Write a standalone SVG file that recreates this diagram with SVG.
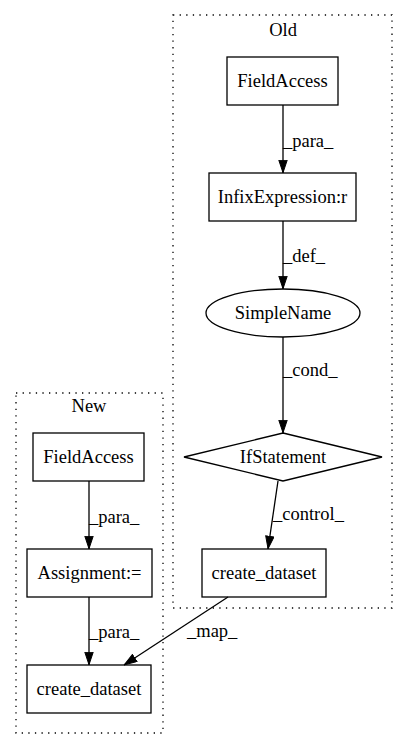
<svg xmlns="http://www.w3.org/2000/svg" width="408" height="740" viewBox="0 0 408 740">
<style>
text{font-family:'Liberation Serif','Times New Roman',serif;font-size:18.5px;fill:#000}
.n{fill:none;stroke:#000;stroke-width:1.3}
.c{fill:none;stroke:#000;stroke-width:1.3;stroke-dasharray:1.3,5.3}
.e{fill:none;stroke:#000;stroke-width:1.3}
.m{text-anchor:middle}
</style>
<defs>
<marker id="a" markerWidth="13.3" markerHeight="9.4" refX="13.3" refY="4.7" orient="auto" markerUnits="userSpaceOnUse" viewBox="0 0 13.3 9.4">
<path d="M0.5,0.5 L13,4.7 L0.5,8.9 z" fill="#000" stroke="#000" stroke-width="1"/>
</marker>
</defs>
<rect width="408" height="740" fill="#fff"/>
<g id="cluster_old">
<rect class="c" x="173" y="15" width="219" height="593"/>
<text class="m" x="283" y="36">Old</text>
</g>
<g id="cluster_new">
<rect class="c" x="16" y="393" width="147" height="340"/>
<text class="m" x="89" y="412">New</text>
</g>
<g id="old_fieldaccess">
<rect class="n" x="227" y="57" width="111" height="48"/>
<text class="m" x="282.5" y="87">FieldAccess</text>
</g>
<g id="old_infix">
<rect class="n" x="209" y="173" width="147" height="48"/>
<text class="m" x="282.5" y="203">InfixExpression:r</text>
</g>
<g id="old_simplename">
<ellipse class="n" cx="283" cy="313" rx="77" ry="24"/>
<text class="m" x="283" y="319">SimpleName</text>
</g>
<g id="old_if">
<polygon class="n" points="283,433 382,457 283,481 184,457"/>
<text class="m" x="283" y="463">IfStatement</text>
</g>
<g id="old_create">
<rect class="n" x="202" y="549" width="124" height="48"/>
<text class="m" x="264" y="579">create_dataset</text>
</g>
<g id="new_fieldaccess">
<rect class="n" x="33" y="433" width="111" height="48"/>
<text class="m" x="88.5" y="463">FieldAccess</text>
</g>
<g id="new_assign">
<rect class="n" x="27" y="549" width="125" height="48"/>
<text class="m" x="89.5" y="579">Assignment:=</text>
</g>
<g id="new_create">
<rect class="n" x="27" y="665" width="124" height="48"/>
<text class="m" x="89" y="695">create_dataset</text>
</g>
<g id="connectors">
<path class="e" d="M283,105 L283,173" marker-end="url(#a)"/>
<text x="283" y="147">_para_</text>
<path class="e" d="M283,221 L283,289" marker-end="url(#a)"/>
<text x="283" y="262">_def_</text>
<path class="e" d="M283,337 L283,433" marker-end="url(#a)"/>
<text x="283" y="376">_cond_</text>
<path class="e" d="M278,481 L268,549" marker-end="url(#a)"/>
<text x="273" y="520">_control_</text>
<path class="e" d="M89,481 L89,549" marker-end="url(#a)"/>
<text x="89" y="523">_para_</text>
<path class="e" d="M89,597 L89,665" marker-end="url(#a)"/>
<text x="89" y="638">_para_</text>
<path class="e" d="M228,597 L124,665" marker-end="url(#a)"/>
<text x="187" y="637">_map_</text>
</g>
</svg>
